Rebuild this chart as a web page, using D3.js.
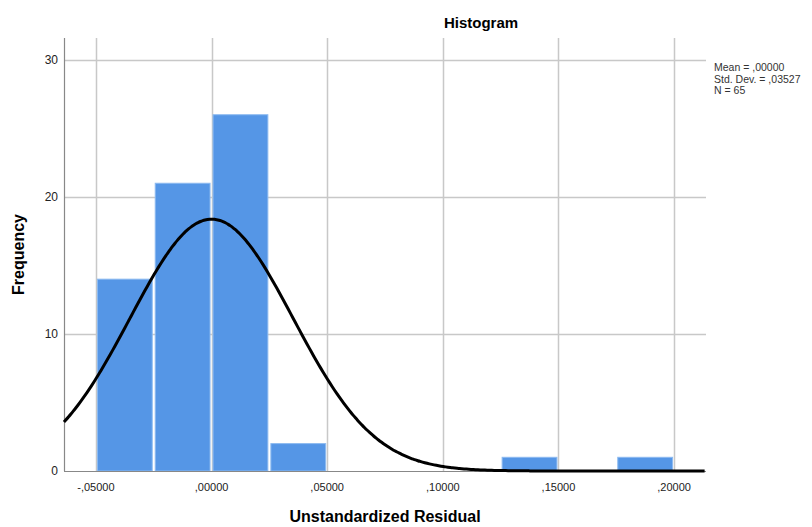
<!DOCTYPE html>
<html>
<head>
<meta charset="utf-8">
<script src="https://d3js.org/d3.v7.min.js"></script>
<title>Histogram</title>
<style>
body { margin: 0; background: #fff; }
text { font-family: "Liberation Sans", Arial, sans-serif; }
</style>
</head>
<body>
<script>

// histogram bins (lower edge, upper edge, count)
var binStart = [-0.05, -0.025, 0.000, 0.025, 0.125, 0.175];
var binEnd   = [-0.025, 0.000, 0.025, 0.050, 0.150, 0.200];
var counts   = [14, 21, 26, 2, 1, 1];

var xTicks = [-0.05, 0, 0.05, 0.10, 0.15, 0.20];
var xTickLabels = ["-,05000", ",00000", ",05000", ",10000", ",15000", ",20000"];
var yTicks = [0, 10, 20, 30];

var statLines = ["Mean = ,00000", "Std. Dev. = ,03527", "N = 65"];
var mean = 0, sd = 0.03527, n = 65, binWidth = 0.025;

var width = 812,
    height = 527;

var plotL = 64, plotR = 706, plotT = 38, plotB = 471;

var svg = d3.select( "body" )
  .append( "svg" )
  .attr( "width", width )
  .attr( "height", height );

var x = d3.scaleLinear()
    .domain([-0.0638, 0.2138])
    .range([plotL, plotR]);

var y = d3.scaleLinear()
    .domain([0, 31.6])
    .range([plotB, plotT]);

// grid
svg.append("g").selectAll("line")
  .data(xTicks)
  .enter().append("line")
  .attr("x1", function(d) { return Math.round(x(d)) + 0.5; })
  .attr("x2", function(d) { return Math.round(x(d)) + 0.5; })
  .attr("y1", plotT)
  .attr("y2", plotB)
  .attr("stroke", "#c8c8c8")
  .attr("stroke-width", 1.5);

svg.append("g").selectAll("line")
  .data(yTicks.slice(1))
  .enter().append("line")
  .attr("x1", plotL)
  .attr("x2", plotR)
  .attr("y1", function(d) { return Math.round(y(d)) + 0.5; })
  .attr("y2", function(d) { return Math.round(y(d)) + 0.5; })
  .attr("stroke", "#c8c8c8")
  .attr("stroke-width", 1.5);

// bars
svg.append("g").selectAll("rect")
  .data(counts)
  .enter().append("rect")
  .attr("x", function(d, i) { return x(binStart[i]) + 1.5; })
  .attr("width", function(d, i) { return x(binEnd[i]) - x(binStart[i]) - 3; })
  .attr("y", function(d) { return y(d); })
  .attr("height", function(d) { return y(0) - y(d); })
  .attr("fill", "#5596e6")
  .attr("stroke", "#8cbaf0")
  .attr("stroke-width", 1);

// axes lines
svg.append("line")
  .attr("x1", plotL + 0.5).attr("x2", plotL + 0.5)
  .attr("y1", plotT).attr("y2", plotB)
  .attr("stroke", "#888").attr("stroke-width", 1.2);
svg.append("line")
  .attr("x1", plotL).attr("x2", plotR)
  .attr("y1", plotB + 0.5).attr("y2", plotB + 0.5)
  .attr("stroke", "#888").attr("stroke-width", 1.2);

// normal curve from stated mean / sd / N
var curveX = d3.range(x.domain()[0], x.domain()[1] + 0.0001, 0.001);
var line = d3.line()
  .x(function(d) { return x(d); })
  .y(function(d) {
    var z = (d - mean) / sd;
    return y(n * binWidth / (sd * Math.sqrt(2 * Math.PI)) * Math.exp(-0.5 * z * z));
  })
  .curve(d3.curveBasis);

svg.append("path")
  .datum(curveX)
  .attr("d", line)
  .attr("fill", "none")
  .attr("stroke", "#000")
  .attr("stroke-width", 3);

// tick labels
svg.append("g").selectAll("text")
  .data(yTicks)
  .enter().append("text")
  .attr("x", plotL - 6)
  .attr("y", function(d) { return y(d) + 4; })
  .attr("text-anchor", "end")
  .attr("font-size", 12)
  .attr("fill", "#222")
  .text(function(d) { return d; });

svg.append("g").selectAll("text")
  .data(xTicks)
  .enter().append("text")
  .attr("x", function(d) { return x(d); })
  .attr("y", plotB + 20)
  .attr("text-anchor", "middle")
  .attr("font-size", 11)
  .attr("fill", "#222")
  .text(function(d, i) { return xTickLabels[i]; });

// titles
svg.append("text")
  .attr("x", 481).attr("y", 28)
  .attr("text-anchor", "middle")
  .attr("font-size", 15).attr("font-weight", "bold")
  .text("Histogram");

svg.append("text")
  .attr("x", (plotL + plotR) / 2).attr("y", 522)
  .attr("text-anchor", "middle")
  .attr("font-size", 16).attr("font-weight", "bold")
  .text("Unstandardized Residual");

svg.append("text")
  .attr("transform", "translate(24," + ((plotT + plotB) / 2) + ") rotate(-90)")
  .attr("text-anchor", "middle")
  .attr("font-size", 16).attr("font-weight", "bold")
  .text("Frequency");

// stats box
svg.append("g").selectAll("text")
  .data(statLines)
  .enter().append("text")
  .attr("x", 714)
  .attr("y", function(d, i) { return 71 + i * 11.5; })
  .attr("font-size", 10.5)
  .attr("fill", "#333")
  .text(function(d) { return d; });

</script>
</body>
</html>
